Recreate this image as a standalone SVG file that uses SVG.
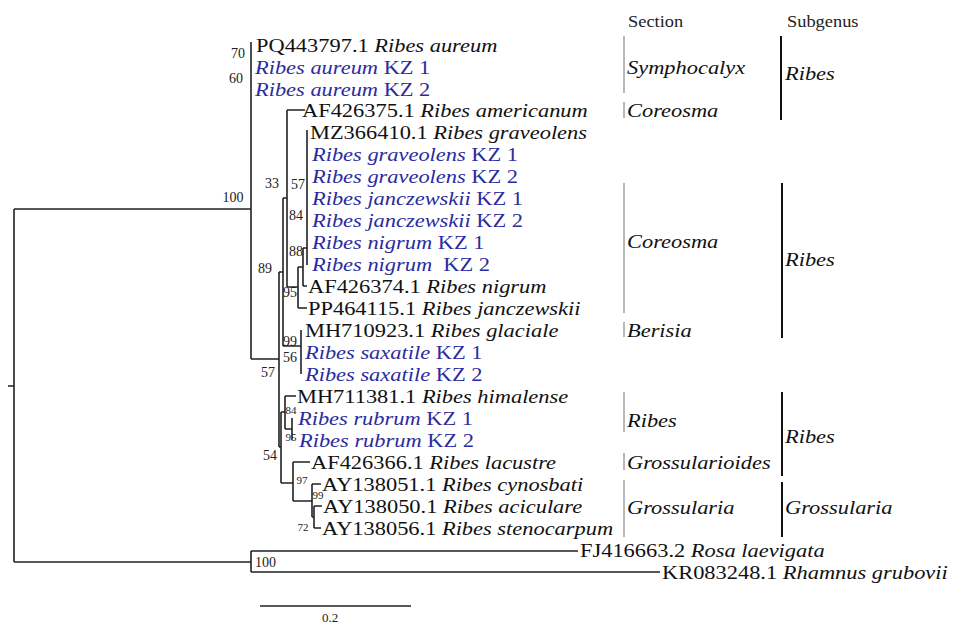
<svg xmlns="http://www.w3.org/2000/svg" width="957" height="624" viewBox="0 0 957 624">
<style>
.t{font-family:"Liberation Serif","Times New Roman",serif;font-size:19.5px;fill:#111}
.b{fill:#2b2ba0}
.i{font-style:italic}
.bs{font-family:"Liberation Serif","Times New Roman",serif;font-size:14px;fill:#222}
.sm{font-size:11px}
.hd{font-family:"Liberation Serif","Times New Roman",serif;font-size:16px;fill:#222}
.ln{stroke:#222;stroke-width:1.6;fill:none}
.sec{stroke:#888;stroke-width:1.2}
.sub{stroke:#111;stroke-width:2}
</style>
<rect width="957" height="624" fill="#fff"/>
<g id="connectors" class="ln">
<path d="M8 386H14M14 209V562M14 209H251M14 562H251"/>
<path d="M251 42V359M251 359H279M279 272V447M279 272H283M283 198V346M283 198H287M287 110V287M287 110H305M287 287H298M298 267V308M298 308H307M298 267H303M303 248V286M303 286H307M303 248H307M307 130V265"/>
<path d="M283 346H301M301 330V374"/>
<path d="M279 447H281M281 412V483M281 412H285M285 396V429M285 396H296M285 429H292M292 418V440M281 483H293M293 462V501M293 462H310M293 501H312M312 484V517M312 484H321M312 517H314M314 506V528M314 506H322M314 528H321"/>
<path d="M251 551V572M251 551H578M251 572H660"/>
<path d="M260 606H411"/>
</g>
<g id="leaves" font-family="Liberation Serif, Times New Roman, serif">
<g id="n1" transform="translate(256 52) scale(1.15 1)"><text class="t">PQ443797.1 <tspan class="i">Ribes aureum</tspan></text></g>
<g id="n2" transform="translate(255 74) scale(1.15 1)"><text class="t b"><tspan class="i">Ribes aureum</tspan> KZ 1</text></g>
<g id="n3" transform="translate(255 96) scale(1.15 1)"><text class="t b"><tspan class="i">Ribes aureum</tspan> KZ 2</text></g>
<g id="n4" transform="translate(302 117) scale(1.15 1)"><text class="t">AF426375.1 <tspan class="i">Ribes americanum</tspan></text></g>
<g id="n5" transform="translate(310 139) scale(1.15 1)"><text class="t">MZ366410.1 <tspan class="i">Ribes graveolens</tspan></text></g>
<g id="n6" transform="translate(312 161) scale(1.15 1)"><text class="t b"><tspan class="i">Ribes graveolens</tspan> KZ 1</text></g>
<g id="n7" transform="translate(312 183) scale(1.15 1)"><text class="t b"><tspan class="i">Ribes graveolens</tspan> KZ 2</text></g>
<g id="n8" transform="translate(312 205) scale(1.15 1)"><text class="t b"><tspan class="i">Ribes janczewskii</tspan> KZ 1</text></g>
<g id="n9" transform="translate(312 227) scale(1.15 1)"><text class="t b"><tspan class="i">Ribes janczewskii</tspan> KZ 2</text></g>
<g id="n10" transform="translate(312 249) scale(1.15 1)"><text class="t b"><tspan class="i">Ribes nigrum</tspan> KZ 1</text></g>
<g id="n11" transform="translate(312 271) scale(1.15 1)"><text class="t b" xml:space="preserve"><tspan class="i">Ribes nigrum</tspan>  KZ 2</text></g>
<g id="n12" transform="translate(308 293) scale(1.15 1)"><text class="t">AF426374.1 <tspan class="i">Ribes nigrum</tspan></text></g>
<g id="n13" transform="translate(308 315) scale(1.15 1)"><text class="t">PP464115.1 <tspan class="i">Ribes janczewskii</tspan></text></g>
<g id="n14" transform="translate(305 337) scale(1.15 1)"><text class="t">MH710923.1 <tspan class="i">Ribes glaciale</tspan></text></g>
<g id="n15" transform="translate(305 359) scale(1.15 1)"><text class="t b"><tspan class="i">Ribes saxatile</tspan> KZ 1</text></g>
<g id="n16" transform="translate(305 381) scale(1.15 1)"><text class="t b"><tspan class="i">Ribes saxatile</tspan> KZ 2</text></g>
<g id="n17" transform="translate(297 403) scale(1.15 1)"><text class="t">MH711381.1 <tspan class="i">Ribes himalense</tspan></text></g>
<g id="n18" transform="translate(298 425) scale(1.15 1)"><text class="t b"><tspan class="i">Ribes rubrum</tspan> KZ 1</text></g>
<g id="n19" transform="translate(299 447) scale(1.15 1)"><text class="t b"><tspan class="i">Ribes rubrum</tspan> KZ 2</text></g>
<g id="n20" transform="translate(311 469) scale(1.15 1)"><text class="t">AF426366.1 <tspan class="i">Ribes lacustre</tspan></text></g>
<g id="n21" transform="translate(322 491) scale(1.15 1)"><text class="t">AY138051.1 <tspan class="i">Ribes cynosbati</tspan></text></g>
<g id="n22" transform="translate(323 513) scale(1.15 1)"><text class="t">AY138050.1 <tspan class="i">Ribes aciculare</tspan></text></g>
<g id="n23" transform="translate(322 535) scale(1.15 1)"><text class="t">AY138056.1 <tspan class="i">Ribes stenocarpum</tspan></text></g>
<g id="n24" transform="translate(580 557) scale(1.15 1)"><text class="t">FJ416663.2 <tspan class="i">Rosa laevigata</tspan></text></g>
<g id="n25" transform="translate(662 579) scale(1.15 1)"><text class="t">KR083248.1 <tspan class="i">Rhamnus grubovii</tspan></text></g>
</g>
<g id="bootstrap" class="bs">
<text x="233" y="202" text-anchor="middle">100</text>
<text x="238" y="58" text-anchor="middle">70</text>
<text x="236" y="83" text-anchor="middle">60</text>
<text x="272" y="188" text-anchor="middle">33</text>
<text x="298" y="189" text-anchor="middle">57</text>
<text x="296" y="220" text-anchor="middle">84</text>
<text x="296" y="256" text-anchor="middle">88</text>
<text x="265" y="273" text-anchor="middle">89</text>
<text x="290" y="297" text-anchor="middle">95</text>
<text x="290" y="346" text-anchor="middle">99</text>
<text x="290" y="362" text-anchor="middle">56</text>
<text x="268" y="377" text-anchor="middle">57</text>
<text class="sm" x="291" y="414" text-anchor="middle">84</text>
<text class="sm" x="291" y="441" text-anchor="middle">95</text>
<text x="270" y="460" text-anchor="middle">54</text>
<text class="sm" x="302" y="484" text-anchor="middle">97</text>
<text class="sm" x="318" y="499" text-anchor="middle">99</text>
<text class="sm" x="303" y="531" text-anchor="middle">72</text>
<text x="255" y="567">100</text>
<text x="330" y="622" text-anchor="middle" style="font-size:13px">0.2</text>
</g>
<g id="sections">
<g transform="translate(628 27) scale(1.15 1)"><text class="hd">Section</text></g>
<g transform="translate(787 27) scale(1.15 1)"><text class="hd">Subgenus</text></g>
<line class="sec" x1="624" y1="36" x2="624" y2="93"/>
<g transform="translate(627 74) scale(1.15 1)"><text class="t i">Symphocalyx</text></g>
<line class="sec" x1="624" y1="102" x2="624" y2="118"/>
<g transform="translate(627 117) scale(1.15 1)"><text class="t i">Coreosma</text></g>
<line class="sec" x1="624" y1="183" x2="624" y2="313"/>
<g transform="translate(627 248) scale(1.15 1)"><text class="t i">Coreosma</text></g>
<line class="sec" x1="624" y1="322" x2="624" y2="337"/>
<g transform="translate(627 337) scale(1.15 1)"><text class="t i">Berisia</text></g>
<line class="sec" x1="624" y1="392" x2="624" y2="432"/>
<g transform="translate(627 427) scale(1.15 1)"><text class="t i">Ribes</text></g>
<line class="sec" x1="624" y1="453" x2="624" y2="470"/>
<g transform="translate(627 469) scale(1.15 1)"><text class="t i">Grossularioides</text></g>
<line class="sec" x1="624" y1="480" x2="624" y2="537"/>
<g transform="translate(627 514) scale(1.15 1)"><text class="t i">Grossularia</text></g>
</g>
<g id="subgenera">
<line class="sub" x1="781" y1="36" x2="781" y2="120"/>
<g transform="translate(785 80) scale(1.15 1)"><text class="t i">Ribes</text></g>
<line class="sub" x1="782" y1="183" x2="782" y2="338"/>
<g transform="translate(785 266) scale(1.15 1)"><text class="t i">Ribes</text></g>
<line class="sub" x1="782" y1="392" x2="782" y2="476"/>
<g transform="translate(785 443) scale(1.15 1)"><text class="t i">Ribes</text></g>
<line class="sub" x1="782" y1="482" x2="782" y2="537"/>
<g transform="translate(785 514) scale(1.15 1)"><text class="t i">Grossularia</text></g>
</g>
</svg>
